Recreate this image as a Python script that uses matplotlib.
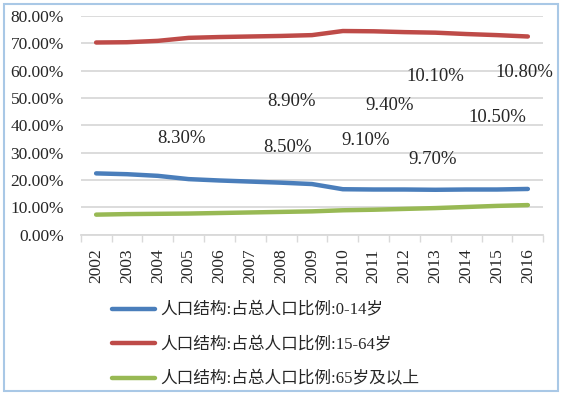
import matplotlib
matplotlib.use("Agg")
import matplotlib.pyplot as plt
from matplotlib.patches import Rectangle
from matplotlib.ticker import FuncFormatter, FixedLocator

plt.rcParams["font.family"] = ["Liberation Serif", "Noto Sans CJK SC", "DejaVu Sans"]

years = [str(y) for y in range(2002, 2017)]
share_0_14 = [22.4, 22.1, 21.5, 20.3, 19.8, 19.4, 19.0, 18.5, 16.6, 16.5, 16.5, 16.4, 16.5, 16.5, 16.7]
share_15_64 = [70.3, 70.4, 70.9, 72.0, 72.3, 72.5, 72.7, 73.0, 74.5, 74.4, 74.1, 73.9, 73.4, 73.0, 72.5]
share_65 = [7.3, 7.5, 7.6, 7.7, 7.9, 8.1, 8.3, 8.5, 8.9, 9.1, 9.4, 9.7, 10.1, 10.5, 10.8]
names = ["人口结构:占总人口比例:0-14岁",
         "人口结构:占总人口比例:15-64岁",
         "人口结构:占总人口比例:65岁及以上"]

# 65+ data labels for 2008-2016, which excel scattered around the plot
labelled_years = years[6:]
label_pos = [(2.78, 35.3), (6.19, 32.0), (6.34, 48.6), (8.74, 34.6), (9.52, 47.4),
             (10.92, 27.6), (10.99, 58.0), (13.01, 42.9), (13.87, 59.2)]

colors = ["#4A7EBB", "#BE4B48", "#98B954"]
txt = "#262626"

fig = plt.figure(figsize=(5.62, 3.94), dpi=100)
ax = fig.add_axes([0.1436, 0.4046, 0.8231, 0.5548])

x = list(range(len(years)))
for vals, c, n in zip([share_0_14, share_15_64, share_65], colors, names):
    ax.plot(x, [v / 100 for v in vals], color=c, lw=3.2, solid_capstyle="round",
            solid_joinstyle="round", label=n, zorder=3)

for yr, (px, py) in zip(labelled_years, label_pos):
    v = share_65[years.index(yr)]
    ax.text(px, py / 100, f"{v:.2f}%", ha="center", va="center", fontsize=13.5, color=txt)

ax.set_xlim(-0.5, len(years) - 0.5)
ax.set_ylim(0, 0.8)
ax.set_yticks([i / 10 for i in range(9)])
ax.yaxis.set_major_formatter(FuncFormatter(lambda v, _: f"{v * 100:.2f}%"))
ax.grid(axis="y", color="#D9D9D9", lw=1.3)
ax.set_axisbelow(True)

ax.set_xticks(x)
ax.set_xticklabels(years, rotation=90, fontsize=12.5)
ax.xaxis.set_minor_locator(FixedLocator([i - 0.5 for i in range(len(years) + 1)]))
ax.tick_params(axis="x", which="major", length=0, pad=10, colors=txt)
ax.tick_params(axis="x", which="minor", length=5, width=1, color="#D9D9D9")
ax.tick_params(axis="y", length=0, pad=12, labelsize=12.5, colors=txt)

for s in ["top", "right", "left"]:
    ax.spines[s].set_visible(False)
ax.spines["bottom"].set_color("#D9D9D9")
ax.spines["bottom"].set_linewidth(1.3)

fig.legend(loc="upper left", bbox_to_anchor=(0.172, 0.27), frameon=False,
           handlelength=2.6, handletextpad=0.3, labelspacing=1.1,
           prop={"size": 12}, labelcolor=txt)

fig.patches.append(Rectangle((0.008, 0.008), 0.984, 0.982, transform=fig.transFigure,
                             fill=False, edgecolor="#A9C8E6", lw=1.5))

fig.savefig("out.png", dpi=100)
